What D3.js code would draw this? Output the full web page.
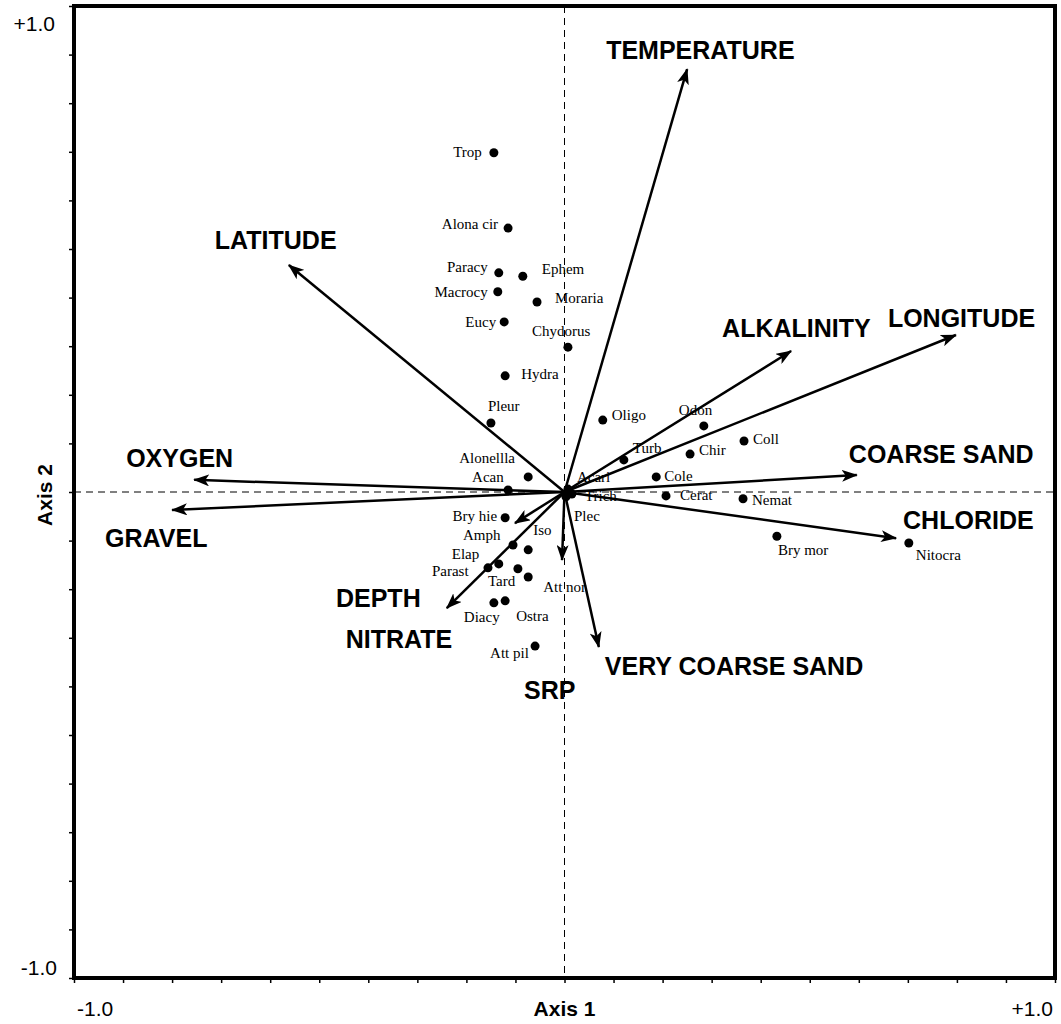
<!DOCTYPE html>
<html>
<head>
<meta charset="utf-8">
<script src="https://cdn.jsdelivr.net/npm/d3@7"></script>
<style>
  body { margin: 0; background: #fff; }
  svg { display: block; }
</style>
</head>
<body>
<svg id="chart"></svg>
<script>
// environmental variables (biplot arrows), axis 1 / axis 2 scores
const envNames = ['TEMPERATURE', 'LATITUDE', 'ALKALINITY', 'LONGITUDE', 'OXYGEN', 'GRAVEL',
                  'COARSE SAND', 'CHLORIDE', 'VERY COARSE SAND', 'DEPTH', 'NITRATE', 'SRP'];
const envAxis1 = [0.250, -0.562, 0.462, 0.798, -0.755, -0.800, 0.596, 0.676, 0.070, -0.101, -0.240, -0.005];
const envAxis2 = [0.870, 0.467, 0.290, 0.323, 0.025, -0.037, 0.035, -0.095, -0.319, -0.064, -0.239, -0.140];

// taxa scores
const speciesNames = ['Trop', 'Alona cir', 'Paracy', 'Ephem', 'Macrocy', 'Moraria', 'Eucy', 'Chydorus', 'Hydra',
                      'Pleur', 'Alonellla', 'Acan', 'Acari', 'Trich', 'Plec', 'Bry hie', 'Iso', 'Amph', 'Elap',
                      'Parast', 'Tard', 'Att nor', 'Diacy', 'Ostra', 'Att pil', 'Oligo', 'Odon', 'Coll', 'Turb',
                      'Chir', 'Cole', 'Cerat', 'Nemat', 'Bry mor', 'Nitocra'];
const speciesAxis1 = [-0.144, -0.115, -0.134, -0.085, -0.136, -0.056, -0.123, 0.007, -0.121,
                      -0.150, -0.074, -0.115, 0.007, 0.015, 0.003, -0.121, -0.074, -0.105, -0.134,
                      -0.156, -0.095, -0.074, -0.144, -0.121, -0.060, 0.078, 0.284, 0.366, 0.121,
                      0.256, 0.187, 0.207, 0.364, 0.433, 0.702];
const speciesAxis2 = [0.698, 0.543, 0.451, 0.444, 0.412, 0.391, 0.350, 0.298, 0.239,
                      0.142, 0.031, 0.004, 0.006, -0.004, -0.010, -0.053, -0.119, -0.109, -0.148,
                      -0.156, -0.158, -0.175, -0.228, -0.224, -0.317, 0.148, 0.136, 0.105, 0.066,
                      0.078, 0.031, -0.008, -0.014, -0.091, -0.105];

const tickLabels = ['-1.0', '+1.0'];
const axisTitles = ['Axis 1', 'Axis 2'];

// label placement (pixels, relative to arrow tip / point)
const envLabelOffset = {
    'TEMPERATURE': [-81, -10], 'LATITUDE': [-74, -16], 'ALKALINITY': [-69, -14],
    'LONGITUDE': [-68, -8], 'OXYGEN': [-68, -13], 'GRAVEL': [-67, 37],
    'COARSE SAND': [-8, -12], 'CHLORIDE': [7, -9], 'VERY COARSE SAND': [6, 28],
    'DEPTH': [-179, 84], 'NITRATE': [-101, 40], 'SRP': [-38, 139]
};
const speciesLabelOffset = {
    'Trop': ['end', -12, 4], 'Alona cir': ['end', -10, 1], 'Paracy': ['end', -11, -1],
    'Ephem': ['start', 19, -2], 'Macrocy': ['end', -10, 5], 'Moraria': ['start', 18, 1],
    'Eucy': ['end', -8, 5], 'Chydorus': ['start', -36, -11], 'Hydra': ['start', 16, 3],
    'Pleur': ['start', -3, -12], 'Alonellla': ['start', -69, -14], 'Acan': ['start', -36, -8],
    'Acari': ['start', 9, -7], 'Trich': ['start', 13, 7], 'Plec': ['start', 8, 24],
    'Bry hie': ['end', -8, 3], 'Iso': ['start', 5, -15], 'Amph': ['start', -50, -5],
    'Elap': ['start', -47, -5], 'Parast': ['start', -56, 8], 'Tard': ['start', -30, 17],
    'Att nor': ['start', 15, 15], 'Diacy': ['start', -30, 19], 'Ostra': ['start', 11, 20],
    'Att pil': ['start', -45, 12], 'Oligo': ['start', 9, 0], 'Odon': ['start', -25, -11],
    'Coll': ['start', 9, 3], 'Turb': ['start', 9, -7], 'Chir': ['start', 9, 1],
    'Cole': ['start', 8, 4], 'Cerat': ['start', 14, 4], 'Nemat': ['start', 9, 6],
    'Bry mor': ['start', 1, 19], 'Nitocra': ['start', 7, 17]
};

const WIDTH = 1061, HEIGHT = 1024;
const PLOT = { left: 74, right: 1055, top: 6, bottom: 978 };
const SANS = '"Liberation Sans", Arial, sans-serif';
const SERIF = '"Liberation Serif", "Times New Roman", serif';

const svg = d3.select('#chart')
    .attr('width', WIDTH)
    .attr('height', HEIGHT);

const xScale = d3.scaleLinear().domain([-1, 1]).range([PLOT.left, PLOT.right]);
const yScale = d3.scaleLinear().domain([-1, 1]).range([PLOT.bottom, PLOT.top]);

svg.append('defs').append('marker')
    .attr('id', 'head')
    .attr('markerUnits', 'userSpaceOnUse')
    .attr('viewBox', '0 0 16 12')
    .attr('markerWidth', 16)
    .attr('markerHeight', 12)
    .attr('refX', 15)
    .attr('refY', 6)
    .attr('orient', 'auto')
    .append('path')
    .attr('d', 'M0,0 L16,6 L0,12 L4,6 Z')
    .attr('fill', '#000');

// dashed zero lines
svg.append('line')
    .attr('x1', xScale(0)).attr('x2', xScale(0))
    .attr('y1', yScale(1)).attr('y2', yScale(-1))
    .attr('stroke', '#000').attr('stroke-width', 1)
    .attr('stroke-dasharray', '7,5');
svg.append('line')
    .attr('x1', xScale(-1)).attr('x2', xScale(1))
    .attr('y1', yScale(0)).attr('y2', yScale(0))
    .attr('stroke', '#000').attr('stroke-width', 1)
    .attr('stroke-dasharray', '7,5');

// axes: ticks every 0.1, labels drawn separately
const ticks = d3.range(-10, 11).map(d => d / 10);
svg.append('g')
    .attr('transform', `translate(0, ${PLOT.bottom})`)
    .call(d3.axisBottom(xScale).tickValues(ticks).tickFormat('').tickSize(5).tickSizeOuter(0))
    .call(g => g.select('.domain').remove())
    .call(g => g.selectAll('line').attr('stroke-width', 1.5));
svg.append('g')
    .attr('transform', `translate(${PLOT.left}, 0)`)
    .call(d3.axisLeft(yScale).tickValues(ticks).tickFormat('').tickSize(5).tickSizeOuter(0))
    .call(g => g.select('.domain').remove())
    .call(g => g.selectAll('line').attr('stroke-width', 1.5));

svg.append('rect')
    .attr('x', PLOT.left)
    .attr('y', PLOT.top)
    .attr('width', PLOT.right - PLOT.left)
    .attr('height', PLOT.bottom - PLOT.top)
    .attr('fill', 'none')
    .attr('stroke', '#000')
    .attr('stroke-width', 4);

// tick labels
const tickText = svg.append('g')
    .attr('font-family', SANS)
    .attr('font-size', '21px')
    .attr('fill', '#000');
tickText.append('text').text(tickLabels[1])
    .attr('x', PLOT.left - 19).attr('y', yScale(1) + 25).attr('text-anchor', 'end');
tickText.append('text').text(tickLabels[0])
    .attr('x', PLOT.left - 17).attr('y', yScale(-1) - 3).attr('text-anchor', 'end');
tickText.append('text').text(tickLabels[0])
    .attr('x', xScale(-1) + 3).attr('y', PLOT.bottom + 38).attr('text-anchor', 'start');
tickText.append('text').text(tickLabels[1])
    .attr('x', xScale(1) - 2).attr('y', PLOT.bottom + 38).attr('text-anchor', 'end');

// axis titles
svg.append('text')
    .text(axisTitles[0])
    .attr('x', xScale(0))
    .attr('y', PLOT.bottom + 38)
    .attr('text-anchor', 'middle')
    .attr('font-family', SANS)
    .attr('font-weight', 'bold')
    .attr('font-size', '21px');
svg.append('text')
    .text(axisTitles[1])
    .attr('transform', `translate(52, ${yScale(0) + 3}) rotate(-90)`)
    .attr('text-anchor', 'middle')
    .attr('font-family', SANS)
    .attr('font-weight', 'bold')
    .attr('font-size', '21px');

// arrows
const envData = envNames.map((n, i) => ({ name: n, x: envAxis1[i], y: envAxis2[i] }));
svg.append('g')
    .selectAll('line')
    .data(envData)
    .join('line')
    .attr('x1', xScale(0))
    .attr('y1', yScale(0))
    .attr('x2', d => xScale(d.x))
    .attr('y2', d => yScale(d.y))
    .attr('stroke', '#000')
    .attr('stroke-width', 2.5)
    .attr('marker-end', 'url(#head)');

// species points
const spData = speciesNames.map((n, i) => ({ name: n, x: speciesAxis1[i], y: speciesAxis2[i] }));
svg.append('g')
    .selectAll('circle')
    .data(spData)
    .join('circle')
    .attr('cx', d => xScale(d.x))
    .attr('cy', d => yScale(d.y))
    .attr('r', 4.5)
    .attr('fill', '#000');

svg.append('g')
    .attr('font-family', SERIF)
    .attr('font-size', '15px')
    .selectAll('text')
    .data(spData)
    .join('text')
    .text(d => d.name)
    .attr('text-anchor', d => speciesLabelOffset[d.name][0])
    .attr('x', d => xScale(d.x) + speciesLabelOffset[d.name][1])
    .attr('y', d => yScale(d.y) + speciesLabelOffset[d.name][2]);

// arrow labels
svg.append('g')
    .attr('font-family', SANS)
    .attr('font-weight', 'bold')
    .attr('font-size', '25px')
    .selectAll('text')
    .data(envData)
    .join('text')
    .text(d => d.name)
    .attr('x', d => xScale(d.x) + envLabelOffset[d.name][0])
    .attr('y', d => yScale(d.y) + envLabelOffset[d.name][1]);
</script>
</body>
</html>
